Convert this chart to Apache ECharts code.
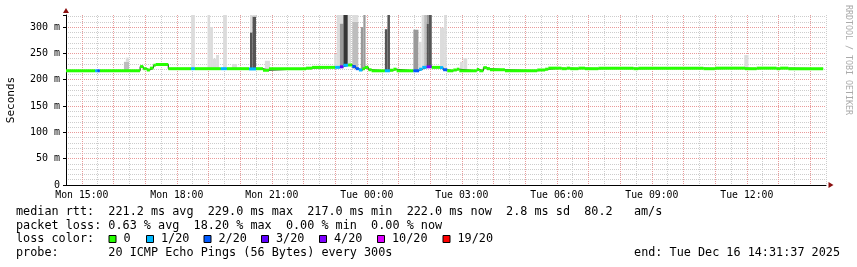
<!DOCTYPE html>
<html>
<head>
<meta charset="utf-8">
<script src="https://cdn.jsdelivr.net/npm/echarts@6/dist/echarts.min.js"></script>
<style>
html, body { margin: 0; padding: 0; background: #ffffff; }
#main { width: 857px; height: 267px; }
</style>
</head>
<body>
<div id="main"></div>
<script>
// time axis in hours after Mon 00:00 (graph runs Mon 14:31:37 -> Tue 14:31:37)
var xStart = 14.5;
var xEnd = 38.5;
var yMax = 323;
var dayNames = [ 'Mon', 'Tue' ];

// median rtt (ms), one step per segment: start hour, value, lost pings of 20
var medStart = [ 14.50, 15.42, 15.49, 15.57, 16.84, 16.94, 17.05, 17.15, 17.26, 17.33,
	17.73, 18.45, 18.57, 19.39, 19.58, 20.28, 20.50, 20.72, 20.91, 22.08,
	22.27, 23.00, 23.15, 23.26, 23.41, 23.54, 23.65, 23.75, 23.86, 23.94,
	24.05, 24.15, 24.57, 24.73, 24.84, 24.94, 25.47, 25.65, 25.75, 25.89,
	26.05, 26.31, 26.41, 26.54, 26.73, 26.84, 26.92, 27.47, 27.55, 27.68,
	27.79, 27.89, 28.36, 29.38, 29.63, 29.73, 30.15, 30.31, 30.42, 30.68,
	30.89, 31.31, 32.42, 32.57, 34.63, 34.99, 35.94, 36.31, 36.94, 37.05,
	37.31 ];
var medValue = [ 217, 217, 217, 217, 225, 221, 218.5, 222, 227.5, 229,
	221, 221, 221, 221, 221, 220.5, 221, 218, 221, 222,
	223.5, 223.5, 224.5, 227.5, 228, 225, 221, 218.5, 221, 223.5,
	219, 217, 217, 218, 220, 217, 217, 220, 223.5, 224.5,
	223.5, 223, 219, 217, 218.5, 220, 217, 219.5, 217, 223,
	221, 219, 217, 218.5, 220, 222, 221, 222, 221, 222,
	221, 222, 221, 222, 221, 222, 221, 222, 221, 222,
	221 ];
var medLoss = [ 0, 1, 2, 0, 0, 0, 0, 0, 0, 0,
	0, 1, 0, 1, 0, 1, 0, 0, 0, 0,
	0, 1, 3, 1, 0, 2, 2, 1, 0, 0,
	0, 0, 1, 0, 0, 0, 2, 1, 1, 4,
	0, 1, 2, 0, 0, 0, 0, 0, 0, 0,
	0, 0, 0, 0, 0, 0, 0, 0, 0, 0,
	0, 0, 0, 0, 0, 0, 0, 0, 0, 0,
	0 ];
var medLast = 38.41;

// smoke (ping spread): start hour, end hour, low ms, high ms, layer (1 = outer pings .. 5 = inner)
var smokeStart = [ 16.33, 16.39, 18.45, 18.97, 19.05, 19.14, 19.24, 19.46, 19.74, 20.31,
	20.31, 20.39, 20.39, 20.78, 22.97, 23.05, 23.15, 23.15, 23.26, 23.40,
	23.54, 23.54, 23.81, 23.89, 24.57, 24.65, 25.47, 25.63, 25.73, 25.81,
	25.89, 25.89, 25.96, 26.31, 26.44, 26.94, 27.05, 35.92 ];
var smokeEnd = [ 16.49, 16.49, 18.57, 19.05, 19.14, 19.24, 19.33, 19.58, 19.90, 20.39,
	20.39, 20.50, 20.50, 20.94, 23.05, 23.15, 23.26, 23.26, 23.40, 23.50,
	23.73, 23.73, 23.89, 23.96, 24.65, 24.73, 25.63, 25.73, 25.81, 25.89,
	25.96, 25.96, 26.05, 26.44, 26.52, 27.05, 27.17, 36.05 ];
var smokeLow = [ 217, 234, 221, 221, 221, 221, 221, 221, 221, 221,
	290, 221, 320, 218, 223, 223, 224, 307, 227, 228,
	221, 310, 218, 221, 217, 217, 217, 220, 223, 223,
	224, 307, 224, 223, 219, 217, 217, 221 ];
var smokeHigh = [ 234, 242, 330, 330, 300, 240, 247, 330, 230, 290,
	330, 320, 330, 236, 249, 330, 307, 330, 330, 330,
	310, 330, 300, 330, 296, 330, 295, 272, 330, 330,
	307, 330, 330, 299, 330, 234, 241, 247 ];
var smokeLayer = [ 2, 1, 1, 1, 1, 1, 1, 1, 1, 4,
	1, 4, 1, 1, 1, 1, 3, 1, 5, 1,
	2, 1, 3, 3, 4, 4, 3, 1, 1, 2,
	4, 3, 4, 1, 1, 1, 1, 1 ];

// loss colour legend
var lossSteps = [ 0, 1, 2, 3, 4, 10, 19 ];
var lossLabels = [ '0', '1/20', '2/20', '3/20', '4/20', '10/20', '19/20' ];
var lossColors = [ '#26ff00', '#00b8ff', '#0059ff', '#5e00ff', '#7e00ff', '#dd00ff', '#ff0000' ];

var rttLine = 'median rtt:  221.2 ms avg  229.0 ms max  217.0 ms min  222.0 ms now  2.8 ms sd  80.2   am/s';
var lossLine = 'packet loss: 0.63 % avg  18.20 % max  0.00 % min  0.00 % now';
var probeLine = 'probe:       20 ICMP Echo Pings (56 Bytes) every 300s';
var endLine = 'end: Tue Dec 16 14:31:37 2025';

var mono = '"DejaVu Sans Mono", monospace';
var smokeColors = [ '', '#dcdcdc', '#bdbdbd', '#999999', '#555555', '#363636' ];
var gridColor = '#cdcdcd';
var mgridColor = '#e99a9a';
var legendBoxX = [ 108.5, 146, 203.5, 261, 319, 377, 442.5 ];

// plot area; hourly (red) grid on a second grid starting at the first full hour,
// half-hour (grey) grid on a third grid counted in hours since xStart
var gridLeft = 66, gridTop = 15, gridWidth = 760, gridHeight = 170;
var firstHour = Math.ceil(xStart);
var hourLeft = gridLeft + (firstHour - xStart) * gridWidth / (xEnd - xStart);

function lossColor(n) {
	var c = lossColors[0];
	for ( var i = 0; i < lossSteps.length; i++) {
		if (n >= lossSteps[i]) c = lossColors[i];
	}
	return c;
}

var medData = [], medLine = [], smokeData = [];
for ( var i = 0; i < medStart.length; i++) {
	var end = i < medStart.length - 1 ? medStart[i + 1] : medLast;
	medData.push([ medStart[i], end, medValue[i], medLoss[i] ]);
	medLine.push([ medStart[i], medValue[i] ]);
}
medLine.push([ medLast, medValue[medValue.length - 1] ]);
for ( var i = 0; i < smokeStart.length; i++) {
	smokeData.push([ smokeStart[i], smokeEnd[i], smokeLow[i], smokeHigh[i], smokeLayer[i] ]);
}

var graphics = [
	{ type : 'text', x : 16, y : 211.5, style : { text : rttLine, fontFamily : mono, fontSize : 11.8, fill : '#000', verticalAlign : 'middle' } },
	{ type : 'text', x : 16, y : 225.5, style : { text : lossLine, fontFamily : mono, fontSize : 11.8, fill : '#000', verticalAlign : 'middle' } },
	{ type : 'text', x : 16, y : 239.3, style : { text : 'loss color:', fontFamily : mono, fontSize : 11.8, fill : '#000', verticalAlign : 'middle' } },
	{ type : 'text', x : 16, y : 253, style : { text : probeLine, fontFamily : mono, fontSize : 11.8, fill : '#000', verticalAlign : 'middle' } },
	{ type : 'text', x : 840, y : 253, style : { text : endLine, fontFamily : mono, fontSize : 11.8, fill : '#000', align : 'right', verticalAlign : 'middle' } },
	{ type : 'text', x : 848, y : 5, rotation : -Math.PI / 2, style : { text : 'RRDTOOL / TOBI OETIKER', fontFamily : mono, fontSize : 8.3, fill : '#aaaaaa', verticalAlign : 'middle' } }
];
for ( var i = 0; i < lossLabels.length; i++) {
	graphics.push({ type : 'rect', shape : { x : legendBoxX[i] + 0.5, y : 235.5, width : 7, height : 7 },
		style : { fill : lossColors[i], stroke : '#000', lineWidth : 1 } });
	graphics.push({ type : 'text', x : legendBoxX[i] + 15, y : 239.3,
		style : { text : lossLabels[i], fontFamily : mono, fontSize : 11.8, fill : '#000', verticalAlign : 'middle' } });
}

var myChart = echarts.init(document.getElementById('main'));
option = {
	backgroundColor : '#ffffff',
	animation : false,
	grid : [ {
		left : gridLeft, top : gridTop, width : gridWidth, height : gridHeight,
		outerBoundsMode : 'none', containLabel : false
	}, {
		left : hourLeft, top : gridTop, width : gridLeft + gridWidth - hourLeft, height : gridHeight,
		outerBoundsMode : 'none', containLabel : false
	}, {
		left : gridLeft, top : gridTop, width : gridWidth, height : gridHeight,
		outerBoundsMode : 'none', containLabel : false
	} ],
	xAxis : [ {
		type : 'value',
		gridIndex : 0,
		position : 'bottom',
		min : xStart,
		max : xEnd,
		interval : 0.5,
		z : 2,
		axisLine : { show : true, lineStyle : { color : '#000', width : 1 } },
		axisTick : { show : false },
		axisLabel : {
			margin : 5,
			fontFamily : mono,
			fontSize : 9.8,
			color : '#000',
			formatter : function(v) {
				if (v % 3 !== 0) return '';
				var h = v % 24;
				return dayNames[Math.floor(v / 24)] + ' ' + (h < 10 ? '0' : '') + h + ':00';
			}
		},
		splitLine : { show : false }
	}, {
		type : 'value',
		gridIndex : 0,
		position : 'bottom',
		min : xStart,
		max : xEnd,
		z : 2,
		axisLine : { show : true, symbol : [ 'none', 'triangle' ], symbolSize : [ 6, 5 ], symbolOffset : [ 0, 5 ],
			lineStyle : { color : '#8b1010', width : 0.01 } },
		axisTick : { show : false },
		axisLabel : { show : false },
		splitLine : { show : false }
	}, {
		type : 'value',
		gridIndex : 1,
		min : firstHour,
		max : xEnd,
		interval : 1,
		z : 1,
		axisLine : { show : false },
		axisTick : { show : false },
		axisLabel : { show : false },
		splitLine : { show : true, showMaxLine : false, lineStyle : { color : mgridColor, type : [ 1, 1 ], width : 1 } }
	}, {
		type : 'value',
		gridIndex : 2,
		min : 0,
		max : xEnd - xStart,
		interval : 1,
		z : 0,
		axisLine : { show : false },
		axisTick : { show : false },
		axisLabel : { show : false },
		splitLine : { show : true, showMinLine : false, lineStyle : { color : gridColor, type : [ 1, 1 ], width : 1 } }
	} ],
	yAxis : [ {
		type : 'value',
		gridIndex : 0,
		position : 'left',
		min : 0,
		max : yMax,
		interval : 10,
		z : 0,
		axisLine : { show : true, symbol : [ 'none', 'triangle' ], symbolSize : [ 6, 5 ], symbolOffset : [ 0, 4.5 ],
			lineStyle : { color : '#8b1010', width : 0.01 } },
		axisTick : { show : false },
		axisLabel : { show : false },
		splitLine : { show : true, showMaxLine : false,
			lineStyle : { color : [ mgridColor, gridColor, gridColor, gridColor, gridColor ], type : [ 1, 1 ], width : 1 } }
	}, {
		type : 'value',
		gridIndex : 0,
		position : 'left',
		min : 0,
		max : yMax,
		interval : 50,
		z : 2,
		name : 'Seconds',
		nameLocation : 'middle',
		nameGap : 49,
		nameTextStyle : { fontFamily : mono, fontSize : 11, color : '#000' },
		axisLine : { show : true, lineStyle : { color : '#000', width : 1 } },
		axisTick : { show : true, length : 3, lineStyle : { color : '#000' } },
		axisLabel : {
			margin : 6,
			fontFamily : mono,
			fontSize : 10,
			color : '#000',
			formatter : function(v) {
				if (v % 50 !== 0) return '';
				return v === 0 ? '0' : v + ' m';
			}
		},
		splitLine : { show : false }
	}, {
		type : 'value', gridIndex : 1, min : 0, max : yMax, show : false
	}, {
		type : 'value', gridIndex : 2, min : 0, max : yMax, show : false
	} ],
	graphic : graphics,
	series : [ {
		type : 'custom',
		xAxisIndex : 0,
		yAxisIndex : 0,
		z : 3,
		clip : true,
		encode : { x : [ 0, 1 ], y : [ 2, 3 ] },
		renderItem : function(params, api) {
			var a = api.coord([ api.value(0), api.value(3) ]);
			var b = api.coord([ api.value(1), api.value(2) ]);
			return {
				type : 'rect',
				shape : { x : a[0], y : a[1], width : b[0] - a[0], height : b[1] - a[1] },
				style : { fill : smokeColors[api.value(4)] }
			};
		},
		data : smokeData
	}, {
		type : 'line',
		xAxisIndex : 0,
		yAxisIndex : 0,
		z : 4,
		step : 'end',
		symbol : 'none',
		lineStyle : { color : '#202020', width : 1 },
		data : medLine
	}, {
		type : 'custom',
		xAxisIndex : 0,
		yAxisIndex : 0,
		z : 5,
		clip : true,
		encode : { x : [ 0, 1 ], y : [ 2 ] },
		renderItem : function(params, api) {
			var a = api.coord([ api.value(0), api.value(2) ]);
			var b = api.coord([ api.value(1), api.value(2) ]);
			return {
				type : 'rect',
				shape : { x : a[0], y : a[1] - 1.5, width : b[0] - a[0], height : 3 },
				style : { fill : lossColor(api.value(3)) }
			};
		},
		data : medData
	} ]
};
myChart.setOption(option);
</script>
</body>
</html>
